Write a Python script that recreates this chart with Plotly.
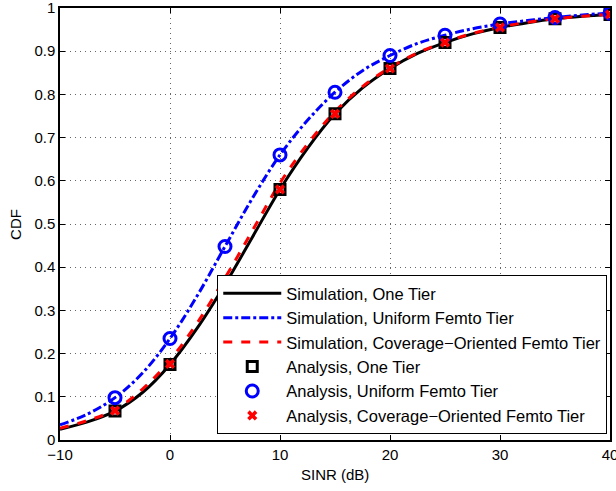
import plotly.graph_objects as go

# simulation curves
sinr_sim = [-10, -7.5, -5, -2.5, 0, 2.5, 5, 7.5, 10, 12.5, 15, 17.5, 20,
            22.5, 25, 27.5, 30, 32.5, 35, 37.5, 40]
sim_one = [0.025, 0.042, 0.067, 0.11, 0.175, 0.26, 0.36, 0.47, 0.58, 0.675, 0.755,
           0.815, 0.86, 0.895, 0.92, 0.94, 0.955, 0.966, 0.975, 0.981, 0.985]
sim_uni = [0.035, 0.06, 0.098, 0.155, 0.235, 0.335, 0.448, 0.56, 0.66, 0.74, 0.805,
           0.855, 0.89, 0.918, 0.937, 0.952, 0.963, 0.971, 0.978, 0.984, 0.988]
sim_cov = [0.027, 0.045, 0.07, 0.118, 0.185, 0.272, 0.375, 0.485, 0.595, 0.685, 0.76,
           0.818, 0.862, 0.896, 0.921, 0.941, 0.956, 0.967, 0.975, 0.981, 0.985]

# analysis markers
sinr_ana = [-5, 0, 5, 10, 15, 20, 25, 30, 35, 40]
ana_one = [0.067, 0.175, 0.36, 0.58, 0.755, 0.86, 0.92, 0.955, 0.975, 0.985]
ana_uni = [0.098, 0.235, 0.448, 0.66, 0.805, 0.89, 0.937, 0.963, 0.978, 0.988]
ana_cov = [0.068, 0.176, 0.36, 0.58, 0.755, 0.86, 0.92, 0.955, 0.975, 0.985]

x_ticks = [-10, 0, 10, 20, 30, 40]
x_labels = ['\u221210', '0', '10', '20', '30', '40']
y_ticks = [0, 0.1, 0.2, 0.3, 0.4, 0.5, 0.6, 0.7, 0.8, 0.9, 1]
y_labels = ['0', '0.1', '0.2', '0.3', '0.4', '0.5', '0.6', '0.7', '0.8', '0.9', '1']

fig = go.Figure()
fig.add_trace(go.Scatter(x=sinr_sim, y=sim_one, mode='lines', line_shape='spline',
                         line=dict(color='black', width=3),
                         name='Simulation, One Tier'))
fig.add_trace(go.Scatter(x=sinr_sim, y=sim_uni, mode='lines', line_shape='spline',
                         line=dict(color='blue', width=3, dash='dashdot'),
                         name='Simulation, Uniform Femto Tier'))
fig.add_trace(go.Scatter(x=sinr_sim, y=sim_cov, mode='lines', line_shape='spline',
                         line=dict(color='red', width=3, dash='dash'),
                         name='Simulation, Coverage\u2212Oriented Femto Tier'))
fig.add_trace(go.Scatter(x=sinr_ana, y=ana_one, mode='markers',
                         marker=dict(symbol='square-open', size=10, color='black',
                                     line=dict(width=3)),
                         name='Analysis, One Tier'))
fig.add_trace(go.Scatter(x=sinr_ana, y=ana_uni, mode='markers',
                         marker=dict(symbol='circle-open', size=12, color='blue',
                                     line=dict(width=3)),
                         name='Analysis, Uniform Femto Tier'))
fig.add_trace(go.Scatter(x=sinr_ana, y=ana_cov, mode='markers',
                         marker=dict(symbol='x', size=9, color='red',
                                     line=dict(width=0)),
                         name='Analysis, Coverage\u2212Oriented Femto Tier'))

ax = dict(showgrid=True, gridcolor='#666666', griddash='1px,4px', gridwidth=1,
          showline=True, linecolor='black', linewidth=1.5, mirror='ticks',
          ticks='inside', ticklen=5, tickcolor='black', zeroline=False,
          tickfont=dict(size=15, color='black'), automargin=False,
          ticklabeloverflow='allow')

fig.update_xaxes(range=[-10, 40], tickvals=x_ticks, ticktext=x_labels, **ax)
fig.update_yaxes(range=[0, 1], tickvals=y_ticks, ticktext=y_labels, **ax)

# axis titles as annotations for exact placement
fig.add_annotation(text='SINR (dB)', xref='paper', yref='paper', x=0.5, y=-0.081,
                   xanchor='center', yanchor='middle', showarrow=False,
                   font=dict(size=15, color='black'))
fig.add_annotation(text='CDF', xref='paper', yref='paper', x=-0.082, y=0.5,
                   xanchor='center', yanchor='middle', showarrow=False, textangle=-90,
                   font=dict(size=15, color='black'))

fig.update_layout(
    width=616, height=491,
    margin=dict(l=60, r=6, t=8, b=51),
    plot_bgcolor='white', paper_bgcolor='white',
    font=dict(family='Liberation Sans, Arial, sans-serif', size=15, color='black'),
    showlegend=True,
    legend=dict(x=0.995, y=0.014, xanchor='right', yanchor='bottom',
                bgcolor='white', bordercolor='black', borderwidth=1,
                font=dict(size=16.5), tracegroupgap=0, itemwidth=58),
)

# page body has a default 8px margin; drop it so the figure sits at the corner
fig.write_html("out.html", config={'displayModeBar': False},
               post_script="document.body.style.margin='0px';")
